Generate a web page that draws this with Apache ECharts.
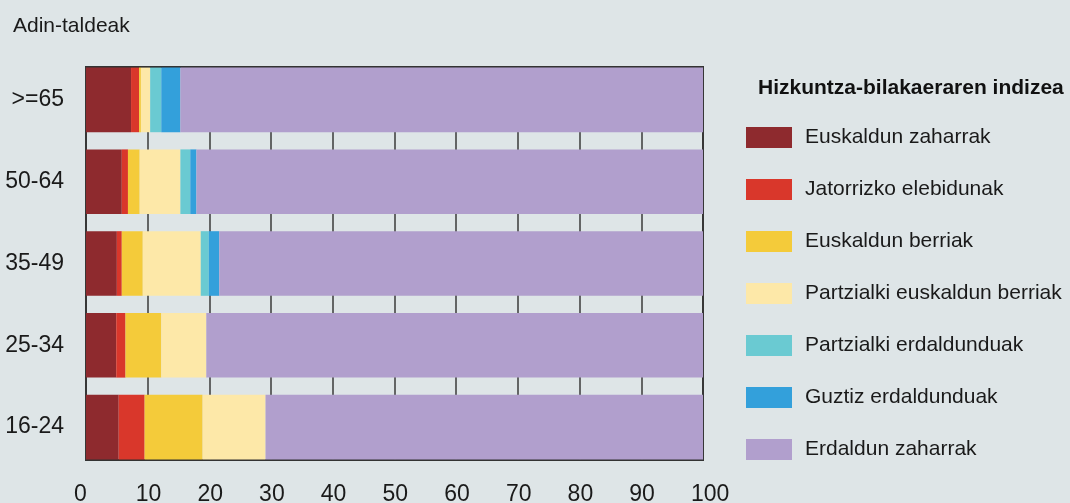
<!DOCTYPE html>
<html>
<head>
<meta charset="utf-8">
<script src="https://cdn.jsdelivr.net/npm/echarts@6/dist/echarts.min.js"></script>
<style>
html,body{margin:0;padding:0;background:#dee5e7;}
#c{width:1070px;height:503px;}
</style>
</head>
<body>
<div id="c"></div>
<script>
const categories = ['16-24', '25-34', '35-49', '50-64', '>=65'];
const seriesNames = ['Euskaldun zaharrak', 'Jatorrizko elebidunak', 'Euskaldun berriak', 'Partzialki euskaldun berriak', 'Partzialki erdaldunduak', 'Guztiz erdaldunduak', 'Erdaldun zaharrak'];
const euskaldunZaharrak = [5.3, 4.9, 5.0, 5.8, 7.3];
const jatorrizkoElebidunak = [4.2, 1.5, 0.8, 1.0, 1.3];
const euskaldunBerriak = [9.4, 5.8, 3.4, 1.9, 0.3];
const partzialkiEuskaldunBerriak = [10.2, 7.3, 9.4, 6.6, 1.5];
const partzialkiErdaldunduak = [0, 0, 1.3, 1.6, 1.8];
const guztizErdaldunduak = [0, 0, 1.7, 1.0, 3.1];
const erdaldunZaharrak = [70.9, 80.5, 78.4, 82.1, 84.7];
const xTicks = [0, 10, 20, 30, 40, 50, 60, 70, 80, 90, 100];

const colors = ['#8e2a2e', '#d9372b', '#f4cb3a', '#fde8a8', '#6acad2', '#33a0db', '#b19fcd'];
const allData = [euskaldunZaharrak, jatorrizkoElebidunak, euskaldunBerriak, partzialkiEuskaldunBerriak, partzialkiErdaldunduak, guztizErdaldunduak, erdaldunZaharrak];
const font = 'Liberation Sans, Arial, sans-serif';

const chart = echarts.init(document.getElementById('c'));
chart.setOption({
  backgroundColor: '#dee5e7',
  animation: false,
  textStyle: { fontFamily: font },
  title: [
    { text: 'Adin-taldeak', left: 8, top: 11, textStyle: { fontFamily: font, fontSize: 21, fontWeight: 'normal', color: '#1a1a1a' } },
    { text: 'Hizkuntza-bilakaeraren indizea', left: 753, top: 73, textStyle: { fontFamily: font, fontSize: 21, fontWeight: 'bold', color: '#111' } }
  ],
  legend: {
    orient: 'vertical',
    left: 741,
    top: 122,
    itemWidth: 46,
    itemHeight: 21,
    itemGap: 31,
    icon: 'rect',
    data: seriesNames,
    textStyle: { fontFamily: font, fontSize: 21, lineHeight: 21, color: '#1a1a1a', padding: [0, 0, 0, 8] }
  },
  grid: [
    { left: 86, right: 367, top: 67, bottom: 43, outerBoundsMode: 'none', containLabel: false, show: true, borderColor: '#333', borderWidth: 2, backgroundColor: 'transparent' },
    { left: 86, right: 367, top: 59, bottom: 35, outerBoundsMode: 'none', containLabel: false }
  ],
  xAxis: [
    {
      gridIndex: 0, type: 'value', min: 0, max: 100, interval: 10,
      axisLine: { show: false }, axisTick: { show: false },
      axisLabel: { fontFamily: font, fontSize: 23, lineHeight: 23, color: '#1a1a1a', margin: 23, align: 'left', verticalAlign: 'top', padding: [0, 0, 0, -12],
        formatter: v => (xTicks.indexOf(v) >= 0 ? String(v) : '') },
      splitLine: { show: true, lineStyle: { color: '#3a3a3a', width: 1.5 } }
    },
    { gridIndex: 1, type: 'value', min: 0, max: 100, show: false }
  ],
  yAxis: [
    { gridIndex: 0, type: 'value', show: false },
    {
      gridIndex: 1, type: 'category', data: categories,
      axisLine: { show: false }, axisTick: { show: false },
      axisLabel: { fontFamily: font, fontSize: 23, color: '#1a1a1a', margin: 22, padding: [3, 0, 0, 0] }
    }
  ],
  series: seriesNames.map((name, i) => ({
    name: name,
    type: 'bar',
    stack: 'total',
    xAxisIndex: 1,
    yAxisIndex: 1,
    barCategoryGap: '21%',
    itemStyle: { color: colors[i] },
    data: allData[i]
  }))
});
</script>
</body>
</html>
